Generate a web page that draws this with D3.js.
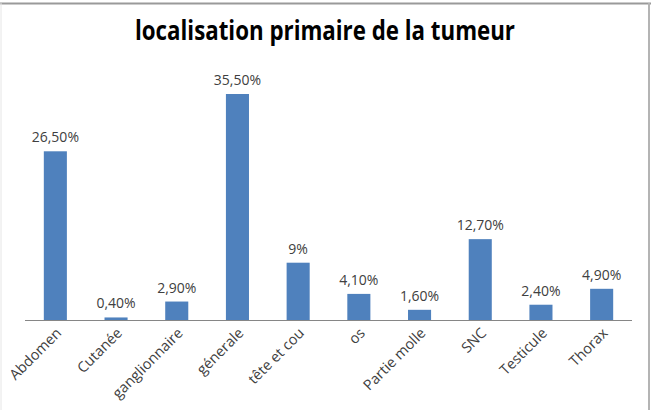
<!DOCTYPE html>
<html>
<head>
<meta charset="utf-8">
<script src="https://cdn.jsdelivr.net/npm/d3@7"></script>
<style>
  body { margin: 0; background: #fff; }
  svg { display: block; font-family: "Open Sans", "Noto Sans", sans-serif; }
</style>
</head>
<body>
<svg width="651" height="410"></svg>
<script>
// data
var categories = ["Abdomen", "Cutanée", "ganglionnaire", "génerale", "tête et cou", "os", "Partie molle", "SNC", "Testicule", "Thorax"];
var values = [26.5, 0.4, 2.9, 35.5, 9, 4.1, 1.6, 12.7, 2.4, 4.9];
var valueLabels = ["26,50%", "0,40%", "2,90%", "35,50%", "9%", "4,10%", "1,60%", "12,70%", "2,40%", "4,90%"];
var title = "localisation primaire de la tumeur";

var myData = categories.map(function (c, i) {
    return { name: c, value: values[i], label: valueLabels[i] };
});

var svg = d3.select("svg");

// frame around the chart
svg.append("line").attr("x1", 0).attr("x2", 651).attr("y1", 3.5).attr("y2", 3.5)
    .attr("stroke", "#9a9a9a").attr("stroke-width", 2);
svg.append("line").attr("x1", 649).attr("x2", 649).attr("y1", 3).attr("y2", 410)
    .attr("stroke", "#b4b4b4").attr("stroke-width", 2);
svg.append("line").attr("x1", 1).attr("x2", 1).attr("y1", 3).attr("y2", 410)
    .attr("stroke", "#e6e6e6").attr("stroke-width", 1);

svg.append("text")
    .attr("x", 325).attr("y", 40)
    .attr("text-anchor", "middle")
    .attr("font-size", 26).attr("font-weight", "bold")
    .attr("textLength", 380).attr("lengthAdjust", "spacingAndGlyphs")
    .attr("fill", "#000")
    .text(title);

var left = 25, right = 632, baseY = 320;

var xScale = d3.scaleBand()
    .domain(categories)
    .range([left, right])
    .paddingInner(0.62)
    .paddingOuter(0.31);

var yScale = d3.scaleLinear()
    .domain([0, 35.5])
    .range([baseY, 94]);

svg.selectAll("rect.bar")
    .data(myData)
    .enter()
    .append("rect")
    .attr("class", "bar")
    .attr("x", function (d) { return xScale(d.name); })
    .attr("y", function (d) { return yScale(d.value); })
    .attr("width", xScale.bandwidth())
    .attr("height", function (d) { return baseY - yScale(d.value); })
    .attr("fill", "#4f81bd");

svg.selectAll("text.val")
    .data(myData)
    .enter()
    .append("text")
    .attr("class", "val")
    .attr("x", function (d) { return xScale(d.name) + xScale.bandwidth() / 2; })
    .attr("y", function (d) { return yScale(d.value) - 9; })
    .attr("text-anchor", "middle")
    .attr("font-size", 14)
    .attr("fill", "#404040")
    .text(function (d) { return d.label; });

// x axis, no ticks, rotated labels
var xAxis = d3.axisBottom(xScale).tickSize(0).tickPadding(0);
var gx = svg.append("g")
    .attr("transform", "translate(0," + baseY + ")")
    .call(xAxis);
gx.select(".domain").attr("stroke", "#868686").attr("d", "M" + left + ",0.5H" + right);
gx.selectAll("text")
    .attr("font-family", "\"Open Sans\", sans-serif")
    .attr("font-size", 14.5)
    .attr("fill", "#404040")
    .attr("text-anchor", "end")
    .attr("dy", null).attr("y", 0)
    .attr("transform", "translate(7,14) rotate(-45)");
</script>
</body>
</html>
